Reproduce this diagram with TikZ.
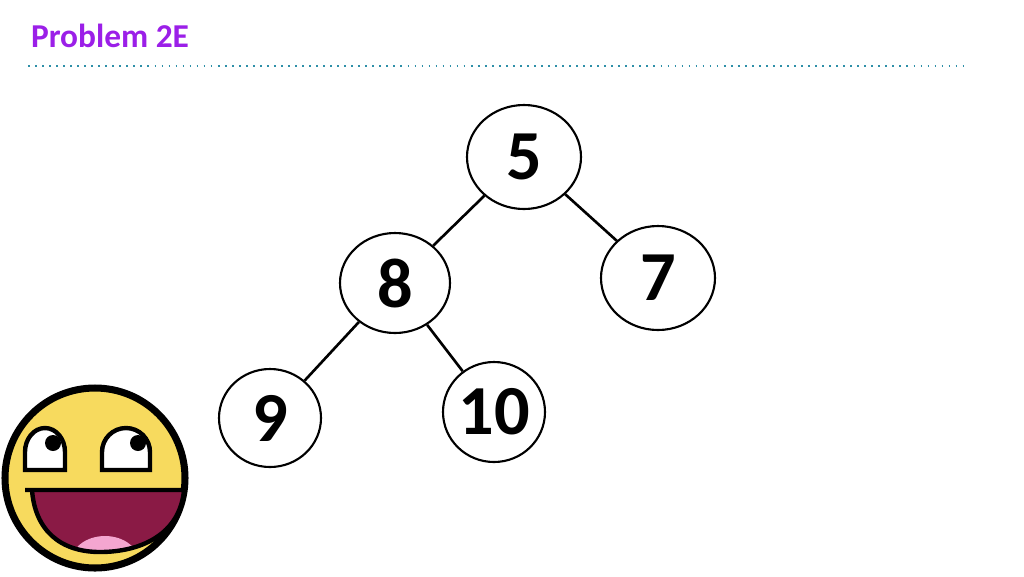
\documentclass[tikz,border=0pt]{standalone}
\usepackage{fontspec}
\setmainfont{Carlito}
\usetikzlibrary{shapes.geometric}
\definecolor{titlepurple}{HTML}{9B1FE8}
\definecolor{dotteal}{HTML}{2E8FA8}
\definecolor{smileyellow}{HTML}{F7DA5E}
\definecolor{mouthred}{HTML}{8A1A45}
\definecolor{tonguepink}{HTML}{F4A6D0}
\begin{document}
\begin{tikzpicture}[x=0.02cm,y=-0.02cm,
    key/.style={ellipse,draw,line width=1.2pt,fill=white,inner sep=0pt,font=\fontsize{40}{40}\bfseries},
    edge/.style={line width=1.5pt}]
  \useasboundingbox (0,0) rectangle (1024,576);
  \node (title) at (110,36) [text=titlepurple,font=\fontsize{19}{19}\bfseries]{Problem 2E};
  \draw [dotteal,line width=1pt,dash pattern=on 1pt off 3pt] (28,66) -- (968,66);

  \node (N5) at (524,157) [key,minimum width=114*0.02cm,minimum height=104*0.02cm]{5};
  \node (N8) at (395,283) [key,minimum width=110*0.02cm,minimum height=100*0.02cm]{8};
  \node (N7) at (658,278) [key,minimum width=114*0.02cm,minimum height=104*0.02cm]{7};
  \node (N9) at (270,418) [key,minimum width=102*0.02cm,minimum height=98*0.02cm]{9};
  \node (N10) at (494,412) [key,minimum width=102*0.02cm,minimum height=100*0.02cm]{10};
  \draw [edge] (N5) -- (N8);
  \draw [edge] (N5) -- (N7);
  \draw [edge] (N8) -- (N9);
  \draw [edge] (N8) -- (N10);

  % smiley
  \draw [fill=smileyellow,line width=4pt] (95,478) circle [radius=90];
  \draw [fill=white,line width=2.5pt] (25,470) -- (25,452) arc [start angle=180,end angle=360,x radius=20,y radius=24] -- (65,470) -- cycle;
  \draw [fill=white,line width=2.5pt] (102,470) -- (102,452) arc [start angle=180,end angle=360,x radius=24,y radius=24] -- (150,470) -- cycle;
  \fill (53,443) circle [radius=8];
  \fill (138,443) circle [radius=8];
  \begin{scope}
    \clip (25,490) -- (184,490) .. controls (180,535) and (140,552) .. (100,552) .. controls (60,552) and (35,530) .. (32,490) -- cycle;
    \fill [mouthred] (0,480) rectangle (190,560);
    \fill [tonguepink] (105,562) ellipse [x radius=34,y radius=26];
  \end{scope}
  \draw [line width=2.5pt] (25,490) -- (184,490) .. controls (180,535) and (140,552) .. (100,552) .. controls (60,552) and (35,530) .. (32,490);
\end{tikzpicture}
\end{document}
